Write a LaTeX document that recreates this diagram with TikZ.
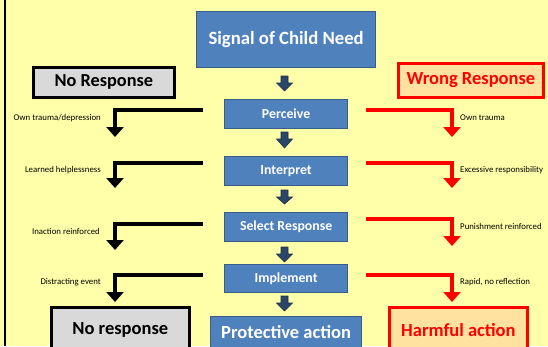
\documentclass[tikz,border=0pt]{standalone}
\usepackage{fontspec}
\setmainfont{Carlito}
\usetikzlibrary{arrows.meta,calc}
\definecolor{bgyellow}{HTML}{FFFFAA}
\definecolor{boxblue}{HTML}{4F81BD}
\definecolor{boxblueline}{HTML}{385D8A}
\definecolor{arrowblue}{HTML}{2A4668}
\definecolor{graybox}{HTML}{D9D9D9}
\definecolor{orangebox}{HTML}{FFE29F}
\definecolor{redline}{HTML}{FF0000}
\begin{document}
\begin{tikzpicture}[x=1pt,y=-1pt,
  bluebox/.style={draw=boxblueline,fill=boxblue,line width=1.2pt,text=white,font=\bfseries,inner sep=0pt,anchor=north west},
  blackbox/.style={draw=black,fill=graybox,line width=2.6pt,inner sep=0pt,anchor=north west,font=\bfseries},
  redbox/.style={draw=redline,fill=orangebox,line width=2.8pt,inner sep=0pt,anchor=north west,font=\bfseries,text=redline},
  lbl/.style={font=\fontsize{8.8}{10}\selectfont,inner sep=0pt},
  blackarr/.style={draw=black,line width=4.2pt,-{Triangle[width=17pt,length=10pt]}},
  redarr/.style={draw=redline,line width=4.2pt,-{Triangle[width=17pt,length=10pt]}},
  smallarr/.style={fill=arrowblue,draw=arrowblue!70!black,line width=0.6pt}
]
\fill[bgyellow] (0,0) rectangle (548,346);
\useasboundingbox (0,0) rectangle (548,346);
\draw[line width=2.5pt] (5,0) -- (5,346);

% main column
\node[bluebox,minimum width=179pt,minimum height=56pt,font=\fontsize{18.7}{22}\bfseries] (signal) at (196,11) {Signal of Child Need};
\node[bluebox,minimum width=123pt,minimum height=29pt,font=\fontsize{13.8}{15}\bfseries] (perceive) at (224,99) {Perceive};
\node[bluebox,minimum width=123pt,minimum height=29pt,font=\fontsize{13.8}{15}\bfseries] (interpret) at (224,156) {Interpret};
\node[bluebox,minimum width=123pt,minimum height=29pt,font=\fontsize{13.8}{15}\bfseries] (select) at (224,212) {Select Response};
\node[bluebox,minimum width=123pt,minimum height=28pt,font=\fontsize{13.8}{15}\bfseries] (implement) at (224,264) {Implement};
\node[bluebox,minimum width=151pt,minimum height=40pt,font=\fontsize{18.5}{22}\bfseries,text depth=0pt] (protect) at (210,316) {\raisebox{9pt}{Protective action}};

% side boxes
\node[blackbox,minimum width=141pt,minimum height=30pt,font=\fontsize{18.3}{20}\bfseries] (noresp) at (32,66) {No Response};
\node[redbox,minimum width=145pt,minimum height=34pt,font=\fontsize{18.5}{21}\bfseries] (wrong) at (397,62) {Wrong Response};
\node[blackbox,minimum width=138pt,minimum height=46pt,font=\fontsize{18.5}{21}\bfseries] (noresp2) at (50,306) {\raisebox{-12pt}{No response}};
\node[redbox,minimum width=138pt,minimum height=46pt,font=\fontsize{18.5}{21}\bfseries] (harm) at (388,306) {\raisebox{-12pt}{Harmful action}};

% small downward block arrows between main boxes
\foreach \ytop/\ybot in {76/91,132/148,190/204,247/262,296/311}{
  \draw[smallarr] (281,\ytop) -- (288,\ytop) -- (288,\ytop+7) -- (292.5,\ytop+7) -- (284.5,\ybot) -- (276.5,\ytop+7) -- (281,\ytop+7) -- cycle;
}

% left elbow arrows
\coordinate (l1) at (115,137);
\coordinate (l2) at (115,188);
\coordinate (l3) at (115,250);
\coordinate (l4) at (115,302);
\draw[blackarr] ([xshift=-21pt]perceive.west |- 0,110) -| (l1);
\draw[blackarr] ([xshift=-21pt]interpret.west |- 0,163) -| (l2);
\draw[blackarr] ([xshift=-21pt]select.west |- 0,224) -| (l3);
\draw[blackarr] ([xshift=-21pt]implement.west |- 0,275) -| (l4);

% right elbow arrows
\coordinate (r1) at (452,137);
\coordinate (r2) at (452,188);
\coordinate (r3) at (452,246);
\coordinate (r4) at (452,302);
\draw[redarr] ([xshift=18pt]perceive.east |- 0,110) -| (r1);
\draw[redarr] ([xshift=18pt]interpret.east |- 0,163) -| (r2);
\draw[redarr] ([xshift=18pt]select.east |- 0,219) -| (r3);
\draw[redarr] ([xshift=18pt]implement.east |- 0,275) -| (r4);

% labels left
\node[lbl,anchor=east] (la) at (101,118) {Own trauma/depression};
\node[lbl,anchor=east] (lb) at (101,170) {Learned helplessness};
\node[lbl,anchor=east] (lc) at (100,231) {Inaction reinforced};
\node[lbl,anchor=east] (ld) at (101,282) {Distracting event};
% labels right
\node[lbl,anchor=west] (ra) at (460,118) {Own trauma};
\node[lbl,anchor=west] (rb) at (460,170) {Excessive responsibility};
\node[lbl,anchor=west] (rc) at (460,226) {Punishment reinforced};
\node[lbl,anchor=west] (rd) at (460,282) {Rapid, no reflection};
\end{tikzpicture}
\end{document}
